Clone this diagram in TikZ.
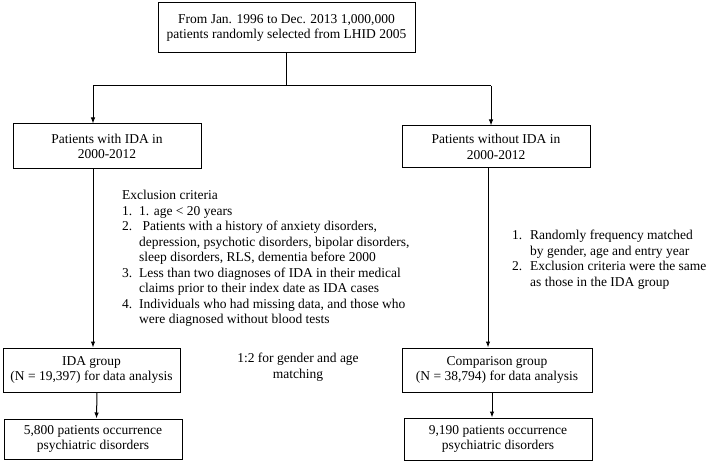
\documentclass[tikz,border=0pt]{standalone}
\usepackage{fontspec}
\setmainfont{Liberation Serif}
\usetikzlibrary{arrows.meta}

\tikzset{
  box/.style={draw, line width=1pt, align=center, inner sep=0pt},
  arr/.style={line width=1pt, -{Latex[length=6pt,width=4.5pt]}},
  note/.style={align=left, inner sep=0pt, anchor=north west}
}

\begin{document}
\begin{tikzpicture}[x=1pt, y=-1pt, font=\fontsize{13.5}{15.5}\selectfont]
		\useasboundingbox (0,0) rectangle (709,462);
		% boxes
		\node[box, minimum width=257pt, minimum height=50pt] (source) at (286.5,28)
			{From Jan. 1996 to Dec. 2013 1,000,000\\patients randomly selected from LHID 2005};
		\node[box, minimum width=188pt, minimum height=45pt] (withIDA) at (107,146.5)
			{Patients with IDA in\\2000-2012};
		\node[box, minimum width=188pt, minimum height=42pt] (withoutIDA) at (496,147)
			{Patients without IDA in\\2000-2012};
		\node[box, minimum width=177pt, minimum height=44pt] (idaGroup) at (91.5,370)
			{IDA group\\(N = 19,397) for data analysis};
		\node[box, minimum width=190pt, minimum height=44pt] (compGroup) at (497,370)
			{Comparison group\\(N = 38,794) for data analysis};
		\node[box, minimum width=178pt, minimum height=40pt] (idaOut) at (93,439)
			{5,800 patients occurrence\\psychiatric disorders};
		\node[box, minimum width=188pt, minimum height=42pt] (compOut) at (498,439)
			{9,190 patients occurrence\\psychiatric disorders};
		% texts
		\node[note] (exclusion) at (122,190) {Exclusion criteria\\
			\makebox[17pt][l]{1.}1. age < 20 years\\
			\makebox[17pt][l]{2.} Patients with a history of anxiety disorders,\\
			\hspace*{17pt}depression, psychotic disorders, bipolar disorders,\\
			\hspace*{17pt}sleep disorders, RLS, dementia before 2000\\
			\makebox[17pt][l]{3.}Less than two diagnoses of IDA in their medical\\
			\hspace*{17pt}claims prior to their index date as IDA cases\\
			\makebox[17pt][l]{4.}Individuals who had missing data, and those who\\
			\hspace*{17pt}were diagnosed without blood tests};
		\node[note] (matched) at (512,230) {\makebox[18pt][l]{1.}Randomly frequency matched\\
			\hspace*{18pt}by gender, age and entry year\\
			\makebox[18pt][l]{2.}Exclusion criteria were the same\\
			\hspace*{18pt}as those in the IDA group};
		\node[align=center, inner sep=0pt] (ratio) at (298,367) {1:2 for gender and age\\matching};
		% branch
		\coordinate (split) at (286.5,86);
		\coordinate (lbranch) at (93,86);
		\coordinate (rbranch) at (491,86);
		\coordinate (rcol) at (488,0);
		\draw[line width=1pt] (source.south) -- (split);
		\draw[line width=1pt] (lbranch) -- (rbranch);
		% arrows
		\draw[arr] (lbranch) -- (lbranch |- withIDA.north);
		\draw[arr] (rbranch) -- (rbranch |- withoutIDA.north);
		\draw[arr] (withIDA.south -| lbranch) -- (lbranch |- idaGroup.north);
		\draw[arr] (withoutIDA.south -| rcol) -- (rcol |- compGroup.north);
		\draw[arr] ([xshift=5.5pt]idaGroup.south) -- ([xshift=3.5pt]idaOut.north);
		\draw[arr] ([xshift=-5pt]compGroup.south) -- ([xshift=-6pt]compOut.north);
	\end{tikzpicture}
\end{document}
